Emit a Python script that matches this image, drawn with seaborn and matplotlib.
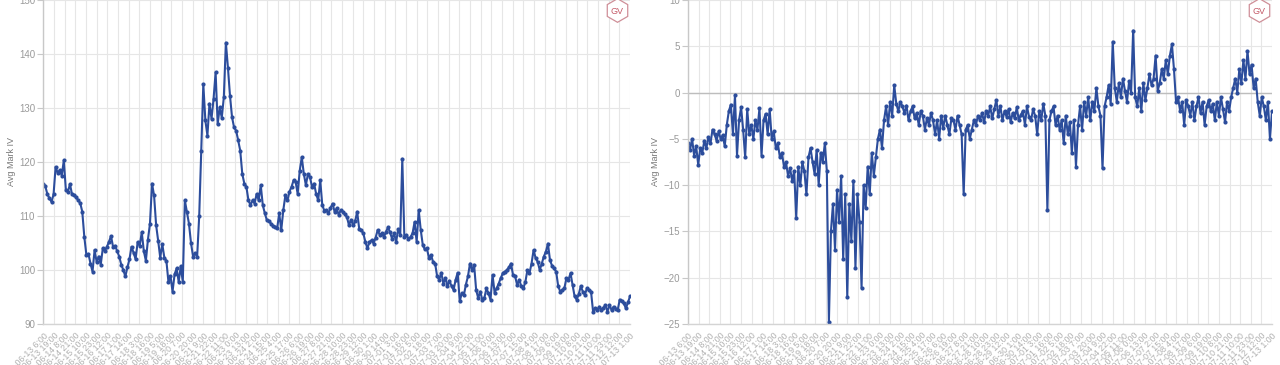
import numpy as np
import pandas as pd
import matplotlib
matplotlib.use("Agg")
import matplotlib.pyplot as plt
import matplotlib.dates as mdates
import seaborn as sns

# ---------------- data ----------------
start_time = "2021-06-13 06:00"
n_points = 287
sample_freq = "150min"

left_values = [
    116.0, 115.5, 114.0, 113.3, 112.6, 114.0, 119.1, 118.0, 118.5, 117.5,
    120.3, 114.8, 114.5, 115.9, 114.0, 113.8, 113.5, 112.9, 112.4, 110.8,
    106.1, 102.8, 103.0, 101.2, 99.7, 103.7, 101.5, 102.5, 101.0, 104.0,
    103.5, 104.3, 105.2, 106.3, 104.3, 104.5, 103.5, 102.5, 101.0, 100.0,
    98.8, 100.5, 102.0, 104.3, 103.2, 102.0, 105.2, 104.5, 107.0, 103.5,
    101.7, 105.6, 108.6, 116.0, 113.8, 108.3, 105.4, 102.3, 104.8, 102.3,
    101.7, 97.8, 98.9, 96.0, 99.2, 100.3, 97.8, 100.7, 97.8, 112.9,
    110.8, 108.6, 105.0, 102.5, 103.1, 102.5, 110.0, 122.0, 134.4, 127.7,
    124.9, 130.8, 128.0, 131.7, 136.6, 127.0, 130.1, 128.2, 132.0, 142.1,
    137.5, 132.3, 128.3, 126.4, 125.8, 124.0, 122.1, 117.8, 116.0, 115.4,
    112.9, 112.0, 112.9, 112.3, 114.1, 112.9, 115.7, 112.0, 110.5, 109.2,
    109.0, 108.6, 108.2, 108.0, 107.7, 110.5, 107.4, 111.1, 113.8, 112.9,
    114.5, 115.4, 116.6, 116.3, 114.1, 118.4, 120.9, 117.8, 115.7, 117.8,
    117.2, 115.4, 116.0, 114.1, 112.9, 116.6, 112.0, 111.0, 111.1, 110.5,
    111.5, 112.3, 110.8, 111.4, 110.2, 111.1, 110.8, 110.3, 109.8, 108.3,
    109.3, 108.3, 109.0, 110.8, 107.6, 107.4, 106.8, 105.2, 104.0, 105.2,
    105.5, 104.9, 106.0, 107.4, 106.5, 106.8, 106.1, 107.0, 107.9, 107.0,
    105.8, 106.8, 105.2, 107.6, 106.5, 120.6, 106.1, 106.5, 105.8, 106.1,
    106.8, 108.9, 105.2, 111.1, 107.4, 104.6, 103.8, 104.0, 102.2, 102.8,
    101.5, 101.2, 98.8, 98.2, 99.5, 97.5, 98.5, 97.0, 98.0, 97.0,
    96.3, 98.2, 99.5, 94.2, 95.7, 95.3, 97.3, 98.8, 101.2, 100.0,
    101.0, 96.3, 94.8, 96.0, 94.5, 94.8, 96.6, 95.7, 94.5, 99.1,
    95.8, 96.6, 97.5, 98.5, 99.4, 99.7, 100.0, 100.5, 101.2, 99.0,
    98.8, 97.2, 98.2, 97.0, 96.6, 97.8, 100.0, 99.4, 101.2, 103.7,
    102.2, 101.5, 100.0, 101.2, 102.5, 103.4, 104.9, 101.8, 100.8, 100.3,
    99.7, 97.0, 96.0, 96.3, 96.6, 98.5, 98.2, 99.4, 97.2, 95.1,
    94.5, 95.5, 97.0, 96.0, 95.4, 96.6, 96.3, 96.0, 92.3, 92.9,
    92.6, 93.2, 92.6, 93.0, 93.5, 92.3, 93.5, 92.6, 93.2, 92.8,
    92.6, 94.5, 94.2, 93.8, 92.9, 94.0, 95.1,
]

right_values = [
    -5.5, -6.2, -5.0, -6.8, -5.8, -7.8, -6.0, -6.5, -5.2, -6.0,
    -4.8, -5.5, -4.0, -4.5, -5.2, -4.2, -5.0, -4.6, -5.8, -3.5,
    -2.0, -1.3, -4.5, -0.3, -6.8, -3.0, -1.6, -4.0, -7.0, -1.8,
    -4.5, -3.5, -5.0, -3.0, -4.0, -1.7, -6.8, -3.0, -2.3, -4.5,
    -1.8, -5.0, -4.2, -6.0, -5.5, -7.0, -6.5, -8.0, -7.5, -9.0,
    -8.2, -9.5, -8.5, -13.5, -8.0, -10.0, -7.5, -8.5, -11.0, -7.0,
    -6.0, -7.5, -8.8, -6.2, -10.0, -6.5, -7.5, -5.5, -8.5, -24.8,
    -15.0, -12.0, -17.0, -10.5, -14.0, -9.0, -18.0, -11.0, -22.1, -12.0,
    -16.0, -9.5, -19.0, -11.0, -14.0, -21.1, -10.0, -12.5, -8.0, -11.0,
    -6.5, -9.0, -7.0, -5.0, -4.0, -6.0, -3.0, -1.5, -3.5, -1.0,
    -2.5, 0.8, -1.2, -2.0, -1.0, -1.5, -2.2, -1.4, -3.0, -2.0,
    -1.5, -2.8, -2.2, -3.5, -2.0, -2.5, -4.0, -2.8, -3.5, -2.2,
    -3.0, -4.5, -3.0, -5.0, -2.5, -3.8, -2.5, -3.5, -4.5, -2.8,
    -3.0, -4.0, -2.5, -3.5, -4.5, -11.0, -4.0, -3.5, -5.0, -4.0,
    -3.0, -3.5, -2.5, -3.0, -2.2, -3.2, -2.0, -2.5, -1.5, -2.8,
    -1.8, -0.8, -2.5, -1.5, -3.0, -2.0, -2.6, -1.8, -3.2, -2.2,
    -2.8, -1.6, -3.0, -2.4, -2.0, -3.5, -1.5, -2.6, -3.0, -1.8,
    -2.5, -4.5, -2.0, -3.0, -1.2, -2.5, -12.7, -3.0, -2.0, -1.5,
    -3.5, -2.5, -4.0, -3.0, -5.5, -2.5, -4.5, -3.2, -6.5, -3.0,
    -8.0, -3.5, -1.5, -4.0, -1.0, -2.5, -0.5, -3.0, -1.0, -2.0,
    0.5, -1.5, -2.5, -8.2, -1.5, -0.5, 0.8, -1.2, 5.5, 0.5,
    -1.0, 1.0, -0.5, 1.5, 0.2, -1.0, 1.2, 0.0, 6.7, -0.5,
    -1.5, 0.5, -2.0, 1.0, -0.8, 0.5, 2.0, 0.8, 1.5, 4.0,
    0.2, 1.0, 2.5, 1.5, 3.5, 2.0, 4.0, 5.2, 2.5, -1.0,
    -0.5, -2.0, -1.0, -3.5, -0.8, -1.5, -2.5, -1.0, -3.0, -1.5,
    -0.5, -2.2, -1.0, -3.5, -1.5, -0.8, -2.0, -1.2, -3.0, -1.0,
    -2.5, -0.5, -1.8, -3.2, -1.0, -2.0, -0.5, 0.5, 1.5, 0.0,
    2.5, 1.0, 3.5, 1.5, 4.5, 2.0, 3.0, 0.5, 1.5, -1.0,
    -2.5, -0.5, -1.5, -3.0, -1.0, -5.0, -2.0,
]

left_yticks = [90, 100, 110, 120, 130, 140, 150]
right_yticks = [-25, -20, -15, -10, -5, 0, 5, 10]
y_label = "Avg Mark IV"
logo_text = "GV"

times = pd.date_range(start_time, periods=n_points, freq=sample_freq)
tick_times = pd.date_range(start_time, "2021-07-13 01:00", freq="13h")
tick_labels = [f"{t:%Y-%m-%d} {t.hour}:{t:%M}" for t in tick_times]

df_left = pd.DataFrame({"time": times, "iv": left_values})
df_right = pd.DataFrame({"time": times, "iv": right_values})

# ---------------- style ----------------
sns.set_theme(style="white")
plt.rcParams["font.family"] = ["Liberation Sans", "DejaVu Sans"]

line_color = "#2c4d9c"
grid_color = "#e6e6e6"
spine_color = "#c8c8c8"
tick_color = "#9a9a9a"
logo_color = "#cf8f98"

fig = plt.figure(figsize=(12.8, 3.65), dpi=100)
ax_l = fig.add_axes([43.3 / 1280, 41 / 365, 586.7 / 1280, 324 / 365])
ax_r = fig.add_axes([688 / 1280, 41 / 365, 584 / 1280, 324 / 365])

for ax, df, yticks in [(ax_l, df_left, left_yticks), (ax_r, df_right, right_yticks)]:
    sns.lineplot(data=df, x="time", y="iv", ax=ax, color=line_color,
                 linewidth=1.5, marker="o", markersize=3,
                 markeredgewidth=0, markerfacecolor=line_color)
    ax.set_xlim(mdates.date2num(times[0]), mdates.date2num(times[-1]))
    ax.set_ylim(yticks[0], yticks[-1])
    ax.set_yticks(yticks)
    ax.set_xticks(mdates.date2num(tick_times))
    ax.set_xticklabels(tick_labels, rotation=45, ha="right",
                       rotation_mode="anchor", fontsize=6.3, color="#b0b0b0")
    ax.tick_params(axis="x", length=0, pad=5)
    ax.tick_params(axis="y", length=4, width=0.8, color=spine_color,
                   labelsize=7, labelcolor=tick_color, pad=2, left=True)
    ax.grid(True, axis="both", color=grid_color, linewidth=0.8)
    ax.set_axisbelow(True)
    for side in ["top", "right"]:
        ax.spines[side].set_visible(False)
    ax.spines["left"].set_color(spine_color)
    ax.spines["bottom"].set_color("#d4d4d4")
    ax.spines["left"].set_linewidth(1.0)
    ax.spines["bottom"].set_linewidth(1.0)
    ax.set_xlabel("")
    ax.set_ylabel(y_label, fontsize=6.5, color="#777777", labelpad=2)
    # logo
    ax.plot([0.978], [0.968], marker="h", markersize=17, markerfacecolor="white",
            markeredgecolor=logo_color, markeredgewidth=0.9,
            transform=ax.transAxes, clip_on=False, zorder=5)
    ax.text(0.978, 0.966, logo_text, transform=ax.transAxes, ha="center",
            va="center", fontsize=6.5, color="#c45a68", zorder=6)

ax_r.axhline(0, color="#bdbdbd", linewidth=1.0, zorder=1)

fig.savefig("out.png", dpi=100)
